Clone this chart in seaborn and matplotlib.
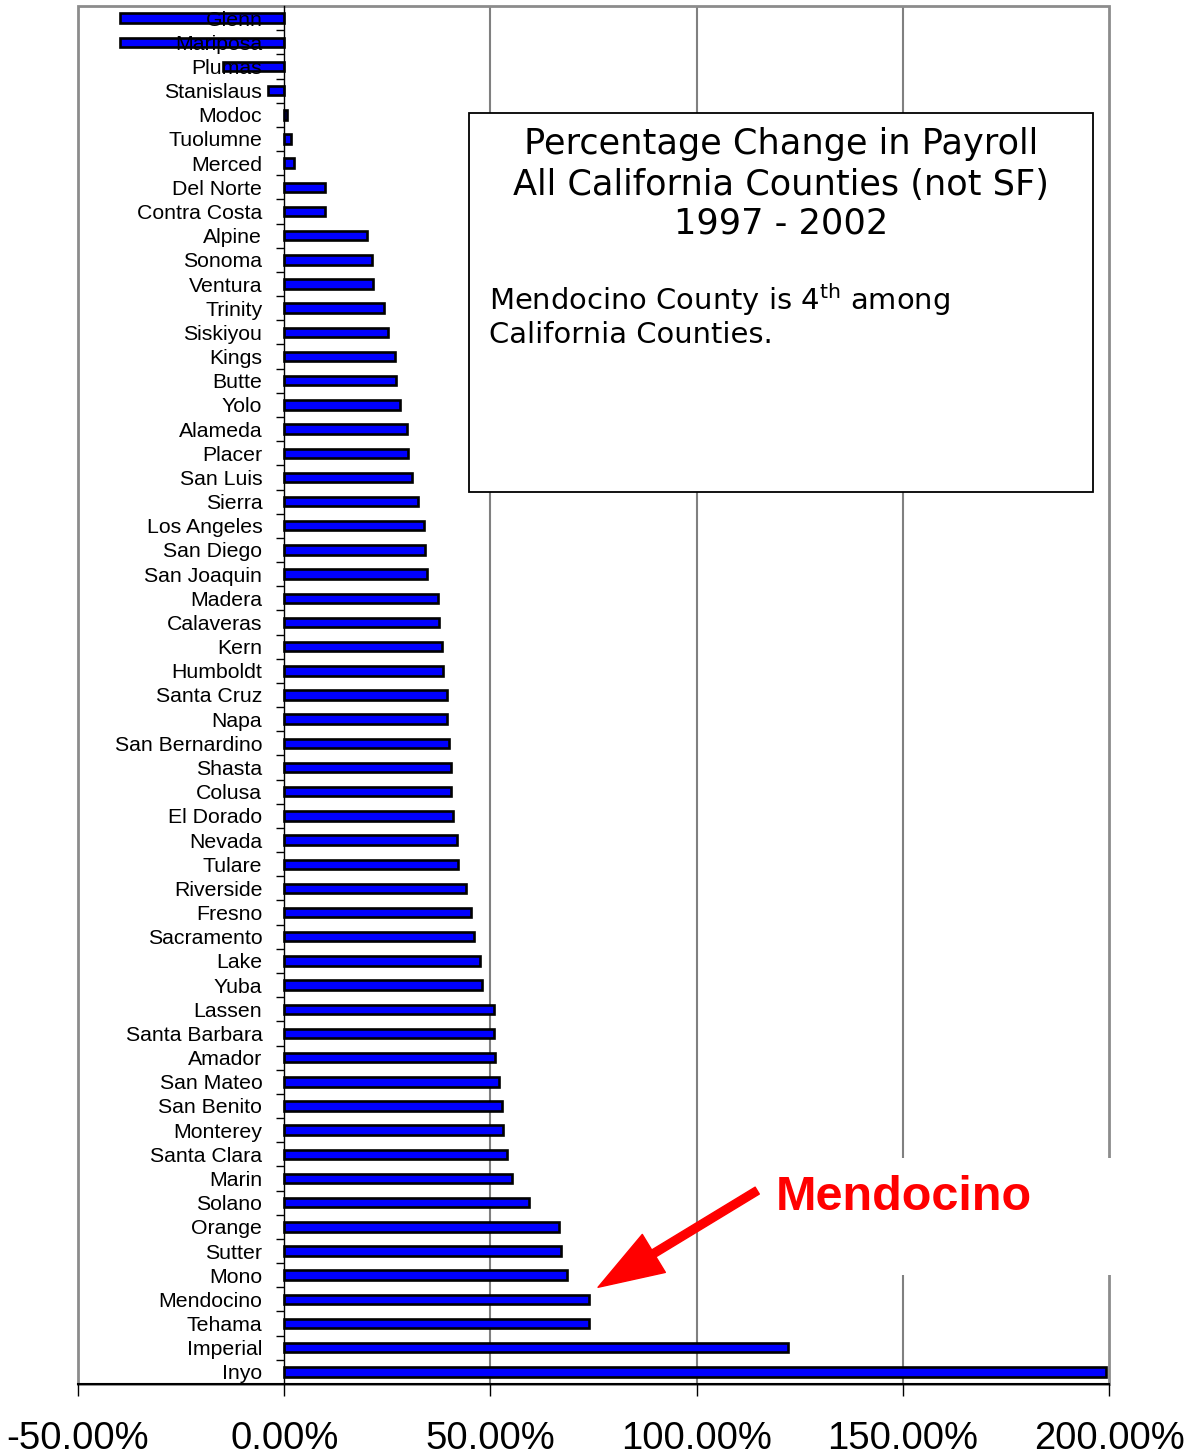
import matplotlib
matplotlib.use("Agg")
import matplotlib.pyplot as plt
from matplotlib.patches import Rectangle
import seaborn as sns
import numpy as np

counties = [
    "Glenn", "Mariposa", "Plumas", "Stanislaus", "Modoc", "Tuolumne", "Merced",
    "Del Norte", "Contra Costa", "Alpine", "Sonoma", "Ventura", "Trinity",
    "Siskiyou", "Kings", "Butte", "Yolo", "Alameda", "Placer", "San Luis",
    "Sierra", "Los Angeles", "San Diego", "San Joaquin", "Madera", "Calaveras",
    "Kern", "Humboldt", "Santa Cruz", "Napa", "San Bernardino", "Shasta",
    "Colusa", "El Dorado", "Nevada", "Tulare", "Riverside", "Fresno",
    "Sacramento", "Lake", "Yuba", "Lassen", "Santa Barbara", "Amador",
    "San Mateo", "San Benito", "Monterey", "Santa Clara", "Marin", "Solano",
    "Orange", "Sutter", "Mono", "Mendocino", "Tehama", "Imperial", "Inyo",
]
pct_change = [
    -39.8, -39.8, -14.8, -3.9, 0.7, 1.7, 2.4,
    9.9, 9.9, 20.1, 21.3, 21.6, 24.2,
    25.2, 26.9, 27.2, 28.1, 29.8, 30.1, 31.0,
    32.5, 33.9, 34.2, 34.7, 37.3, 37.6,
    38.3, 38.6, 39.5, 39.5, 40.0, 40.5,
    40.5, 41.0, 41.9, 42.2, 44.1, 45.3,
    46.1, 47.5, 48.0, 50.9, 50.9, 51.2,
    52.1, 52.9, 53.1, 54.1, 55.3, 59.4,
    66.7, 67.2, 68.6, 74.0, 74.0, 122.2, 199.3,
]
x_ticks = [-50, 0, 50, 100, 150, 200]
title_lines = ["Percentage Change in Payroll",
               "All California Counties (not SF)",
               "1997 - 2002"]
note_lines = [r"Mendocino County is 4$^{\mathrm{th}}$ among",
              "California Counties."]
highlight = "Mendocino"

sns.set_style("white")
plt.rcParams["font.family"] = ["Liberation Sans", "DejaVu Sans"]
plt.rcParams["mathtext.fontset"] = "dejavusans"
plt.rcParams["text.color"] = "black"
plt.rcParams["xtick.color"] = "black"
plt.rcParams["ytick.color"] = "black"
plt.rcParams["xtick.labelcolor"] = "black"
plt.rcParams["ytick.labelcolor"] = "black"

W, H = 1194, 1455
fig = plt.figure(figsize=(W / 100, H / 100), dpi=100)
ax = fig.add_axes([78 / W, 1 - 1384 / H, (1109 - 78) / W, (1384 - 6) / H])

sns.barplot(x=pct_change, y=counties, orient="h", color="#0000ff",
            saturation=1, edgecolor="black", linewidth=1.9, width=0.39,
            ax=ax, zorder=1)
ax.set_axisbelow(False)

ax.set_xlim(-50, 200)
ax.set_ylim(len(counties) - 0.5, -0.5)
ax.set_xlabel("")
ax.set_ylabel("")

# vertical gridlines behind the bars
for v in x_ticks[2:-1]:
    ax.axvline(v, color="#808080", lw=1.5, zorder=0.5)

# x axis
ax.set_xticks(x_ticks)
ax.set_xticklabels([f"{v:.2f}%" for v in x_ticks], fontsize=27.5)
ax.tick_params(axis="x", direction="out", length=8.6, width=1.0,
               color="black", pad=18, bottom=True)

# y axis sits on the zero line; ticks at category boundaries
ax.spines["left"].set_position(("data", 0))
ax.spines["left"].set_color("black")
ax.spines["left"].set_linewidth(1.0)
ax.spines["left"].set_zorder(3)
ax.spines["bottom"].set_color("black")
ax.spines["bottom"].set_linewidth(1.5)
for s in ("top", "right"):
    ax.spines[s].set_visible(False)
ax.tick_params(axis="y", which="major", length=0, pad=15.8, labelsize=15.3)
ax.set_yticks(np.arange(len(counties) - 1) + 0.5, minor=True)
ax.tick_params(axis="y", which="minor", direction="out", length=5.8,
               width=1.0, color="black", left=True)

# gray plot-area frame
ax.add_patch(Rectangle((0, 0), 1, 1, transform=ax.transAxes, fill=False,
                       edgecolor="#8c8c8c", lw=2, zorder=0.6, clip_on=False))

# title box
fig.add_artist(Rectangle((469 / W, 1 - 492 / H), (1093 - 469) / W,
                         (492 - 113) / H, transform=fig.transFigure,
                         facecolor="white", edgecolor="black", lw=1.3,
                         zorder=5))
for txt, yp in zip(title_lines, [144, 185, 223]):
    fig.text(781 / W, 1 - yp / H, txt, ha="center", va="center",
             fontsize=25.3, family=["DejaVu Sans"], zorder=6)
for txt, yp in zip(note_lines, [300, 335]):
    fig.text(489 / W, 1 - yp / H, txt, ha="left", va="center",
             fontsize=20.9, family=["DejaVu Sans"], zorder=6)

# highlight label with white backing and arrow
fig.add_artist(Rectangle((760 / W, 1 - 1275 / H), (1115 - 760) / W,
                         (1275 - 1158) / H, transform=fig.transFigure,
                         facecolor="white", edgecolor="none", zorder=4))
fig.text(904 / W, 1 - 1197 / H, highlight, ha="center", va="center",
         fontsize=35, fontweight="bold", color="#ff0000", zorder=6)

idx = counties.index(highlight)
ax.annotate("", xy=(pct_change[idx] + 2.1, idx - 0.5),
            xytext=(114.7, idx - 4.5),
            arrowprops=dict(facecolor="#ff0000", edgecolor="#ff0000",
                            width=5.8, headwidth=32, headlength=47,
                            shrink=0),
            annotation_clip=False, zorder=7)

fig.savefig("out.png", dpi=100)
